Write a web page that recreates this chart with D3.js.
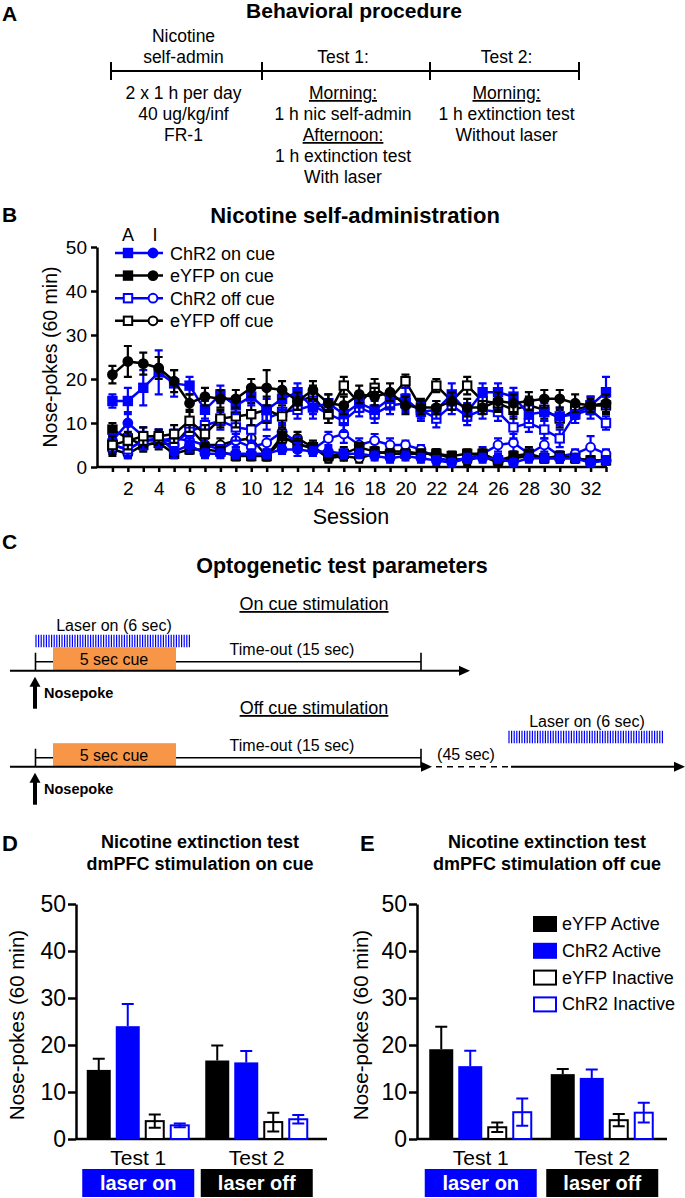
<!DOCTYPE html>
<html>
<head>
<meta charset="utf-8">
<script src="https://cdn.jsdelivr.net/npm/d3@7"></script>
<style>
body{margin:0;background:#fff;}
svg{display:block;font-family:"Liberation Sans",Arial,sans-serif;}
</style>
</head>
<body>
<svg id="fig" width="685" height="1198"></svg>
<script>
const BLUE = "#0000ff";
const ORANGE = "#f79646";
const FONT = "'Liberation Sans', Arial, sans-serif";

// ---- panel A text ----
const phaseHeads = [["Nicotine", "self-admin"], ["Test 1:"], ["Test 2:"]];
const phaseNotes = [
  [["2 x 1 h per day", 0], ["40 ug/kg/inf", 0], ["FR-1", 0]],
  [["Morning:", 1], ["1 h nic self-admin", 0], ["Afternoon:", 1], ["1 h extinction test", 0], ["With laser", 0]],
  [["Morning:", 1], ["1 h extinction test", 0], ["Without laser", 0]]
];

// ---- panel B data (sessions 1..33) ----
const sessions = d3.range(1, 34);
const chr2OnActive = [15,15,18,21.5,19,18.5,13,16.5,14,16,13,15.5,17,13.5,14.5,12,14.5,13,15.5,15.5,12.5,13,16.5,12.5,17,17,16,12,12.5,11.5,12,14,17];
const chr2OnActiveErr = [1.5,3,4,5,3,2,2,2,2,2,2.5,2.5,2,2.5,2,2,2,2,2,2.5,2,2,2.5,2,2,2,2,2,2,2,2,2,3.5];
const chr2OnInactive = [6,10,7,7,3.5,5,3,3,3,3,3,4,4,3.5,3.5,3,3,2.5,2,2.5,2,1.5,1,2,2,2,1,2,2,2,2,1,1.5];
const chr2OnInactiveErr = [1.5,2.5,2,1.5,1.5,1.5,1,1,1,1,1,1,1.5,1,1,1,1,1,1,1,1,1,0.8,1,1,1,0.8,1,1,1,1,0.8,1];
const eyfpOnActive = [21,24,23.5,22.5,19.5,14.5,16,15.5,15.5,18,18,17.5,15,17.5,14.5,14,16.5,16,17,14,13.5,13.5,15,13.5,13.5,15,14.5,15,15.5,15.5,14.5,14,14.5];
const eyfpOnActiveErr = [2,3.5,2.5,2.5,2.5,2,2,2,2,2,4,2,2,2,2,2,2,2,2,2,1.5,1.5,2,2,1.5,2,2,2,2,2,2,1.5,2];
const eyfpOnInactive = [8.5,6.5,5,5.5,3,4,4,3.5,2.5,2.5,2.5,7,5,4.5,2.5,3,4.5,3.5,3,3,3,3,2.5,3,3,1.5,2.5,3,2,2.5,2,1.5,1.5];
const eyfpOnInactiveErr = [1.5,1,1,1,1,1,1,1,1,1,1,1.5,1.5,1,1,1.5,1,1,1,1,1,1,1,1,1,1,1,1.5,1,1,1,1,1];
const chr2OffActive = [5,4,6,6.5,5.5,8,9.5,10.5,9,8.5,11,12.5,13,14,12,10.5,13.5,12,14,14.5,13,11,14,11.5,13,12.5,9,10,8.5,6.5,12,13,10];
const chr2OffActiveErr = [2,2,2,2,2,2,3,2,3,3,2.5,2.5,2,2,2,2.5,2,2,2,2,2,2,2,2,2,2,2.5,2,2,2,2,2,1.5];
const chr2OffInactive = [5,4,6,6,6.5,6,5,4,6,4.5,5.5,8,5.5,4,6.5,7.5,5,6,5,5,4,2,1.5,2,3,5,5.5,3,5,2.5,3,4.5,3];
const chr2OffInactiveErr = [1.5,1.5,1.5,1.5,2,1.5,1.5,1,1.5,1.5,1.5,1.5,1.5,1.5,1.5,2,1.5,1.5,1.5,1,1,1,1,1,1.5,1.5,2,1,1.5,1,1,2.5,1];
const eyfpOffActive = [5,6,7,7,7.5,10.5,7.5,11,11.5,12,13,11.5,15,16,12,18.5,14.5,18,15.5,19.5,13.5,18.5,15,18.5,15,14.5,13,14,13,11,13,14,14];
const eyfpOffActiveErr = [2,2,2,1.5,2,2.5,2,2,2.5,2.5,3,2.5,2,2.5,2,2,2,2,2,1.5,2,1.5,2,2,2,2,2,2,2,2,2,2,2];
const eyfpOffInactive = [4,3,5,5.5,5,9,5,5,6,6.5,2.5,6,6.5,4.5,2,2.5,2,3,3.5,3.5,3,3,2,1.5,2.5,1,2,2.5,2,2,2,1.5,1.5];
const eyfpOffInactiveErr = [1.5,1,1.5,1.5,1.5,2,1.5,1.5,1.5,2,1,1.5,1.5,1.5,1,1,1,1,1,1,1,1,1,1,1,1,1,1,1,1,1,1,1];

// ---- panels D / E data ----
const testNames = ["Test 1", "Test 2"];
const barSeries = ["eYFP Active", "ChR2 Active", "eYFP Inactive", "ChR2 Inactive"];
const onCueTest1 = [14.7, 24.0, 3.8, 2.9];
const onCueTest1Err = [2.4, 4.7, 1.4, 0.4];
const onCueTest2 = [16.7, 16.3, 3.6, 4.2];
const onCueTest2Err = [3.2, 2.4, 2.0, 0.9];
const offCueTest1 = [19.1, 15.5, 2.5, 5.7];
const offCueTest1Err = [4.8, 3.3, 1.0, 2.9];
const offCueTest2 = [13.8, 13.0, 4.0, 5.6];
const offCueTest2Err = [1.1, 1.8, 1.3, 2.1];
const laserLabels = ["laser on", "laser off"];
const yTicks = [0, 10, 20, 30, 40, 50];

const svg = d3.select("#fig");

function txt(g, x, y, s, o = {}) {
  const t = g.append("text").attr("x", x).attr("y", y).text(s)
    .attr("font-size", o.size || 16)
    .attr("text-anchor", o.anchor || "middle")
    .attr("fill", o.fill || "#000");
  if (o.bold) t.attr("font-weight", "bold");
  if (o.underline) t.style("text-decoration", "underline");
  if (o.rotate) t.attr("transform", `rotate(-90,${x},${y})`);
  return t;
}

function styleAxis(g, size) {
  g.attr("font-family", FONT).attr("font-size", size);
  g.selectAll("path,line").attr("stroke", "#000").attr("stroke-width", 2.5);
  g.selectAll("text").attr("fill", "#000");
}

// ================= Panel A =================
const gA = svg.append("g");
txt(gA, 2, 21, "A", {size: 21, bold: true, anchor: "start"});
txt(gA, 354, 18, "Behavioral procedure", {size: 21, bold: true});
const xA = d3.scaleLinear().domain([0, 1, 2, 3]).range([111, 262, 430, 579]);
gA.append("line").attr("x1", xA(0)).attr("x2", xA(3)).attr("y1", 71).attr("y2", 71)
  .attr("stroke", "#000").attr("stroke-width", 2);
gA.selectAll(".tk").data([0, 1, 2, 3]).enter().append("line")
  .attr("x1", d => xA(d)).attr("x2", d => xA(d)).attr("y1", 62).attr("y2", 80)
  .attr("stroke", "#000").attr("stroke-width", 2);
phaseHeads.forEach((h, i) => {
  const cx = xA(i + 0.5) - (i === 0 ? 3 : i === 1 ? 3 : -2);
  h.forEach((s, j) => txt(gA, cx, 63 - (h.length - 1 - j) * 21, s, {size: 17.5}));
  phaseNotes[i].forEach((l, j) => txt(gA, cx, 99 + j * 21, l[0], {size: 17.5, underline: l[1]}));
});

// ================= Panel B =================
const gB = svg.append("g");
txt(gB, 2, 222, "B", {size: 21, bold: true, anchor: "start"});
txt(gB, 355, 223, "Nicotine self-administration", {size: 22, bold: true});

const xB = d3.scaleLinear().domain([0, 33]).range([97, 606]);
const yB = d3.scaleLinear().domain([0, 50]).range([467, 247]);

const yAxB = gB.append("g").attr("transform", `translate(${xB(0)},0)`)
  .call(d3.axisLeft(yB).tickValues(yTicks).tickSize(6).tickSizeOuter(0).tickPadding(4));
styleAxis(yAxB, 19);
const xAxB = gB.append("g").attr("transform", `translate(0,${yB(0)})`)
  .call(d3.axisBottom(xB).tickValues(sessions).tickFormat(d => d % 2 === 0 ? d : "")
    .tickSize(5).tickSizeOuter(0).tickPadding(10));
styleAxis(xAxB, 19);
xAxB.select(".domain").attr("d", `M${xB(0)},0H${xB(33) + 1}`);

txt(gB, 57, 357, "Nose-pokes (60 min)", {size: 19.5, rotate: true});
txt(gB, 351, 524, "Session", {size: 21.5});

const lineSeries = [
  {v: eyfpOffInactive, e: eyfpOffInactiveErr, c: "#000", fill: false, shape: "circle"},
  {v: chr2OffInactive, e: chr2OffInactiveErr, c: BLUE, fill: false, shape: "circle"},
  {v: eyfpOnInactive, e: eyfpOnInactiveErr, c: "#000", fill: true, shape: "square"},
  {v: chr2OnInactive, e: chr2OnInactiveErr, c: BLUE, fill: true, shape: "circle"},
  {v: chr2OffActive, e: chr2OffActiveErr, c: BLUE, fill: false, shape: "square"},
  {v: eyfpOffActive, e: eyfpOffActiveErr, c: "#000", fill: false, shape: "square"},
  {v: chr2OnActive, e: chr2OnActiveErr, c: BLUE, fill: true, shape: "square"},
  {v: eyfpOnActive, e: eyfpOnActiveErr, c: "#000", fill: true, shape: "circle"}
];

function marker(g, shape, x, y, c, fill) {
  let m;
  if (shape === "square") {
    m = g.append("rect").attr("x", x - 4.2).attr("y", y - 4.2).attr("width", 8.4).attr("height", 8.4);
  } else {
    m = g.append("circle").attr("cx", x).attr("cy", y).attr("r", 4.4);
  }
  m.attr("fill", fill ? c : "#fff").attr("stroke", c).attr("stroke-width", 2);
}

const lineGen = d3.line().x((d, i) => xB(i + 1)).y(d => yB(d));
lineSeries.forEach(s => {
  const g = gB.append("g");
  g.append("path").attr("d", lineGen(s.v)).attr("fill", "none")
    .attr("stroke", s.c).attr("stroke-width", 2.5);
  s.v.forEach((v, i) => {
    const x = xB(i + 1), y1 = yB(v + s.e[i]), y0 = yB(Math.max(0, v - s.e[i]));
    g.append("path").attr("d", `M${x},${y0}V${y1}M${x - 4},${y1}H${x + 4}M${x - 4},${y0}H${x + 4}`)
      .attr("stroke", s.c).attr("stroke-width", 2.2).attr("fill", "none");
  });
  s.v.forEach((v, i) => marker(g, s.shape, xB(i + 1), yB(v), s.c, s.fill));
});

// legend B
const legB = [
  {label: "ChR2 on cue", c: BLUE, fill: true},
  {label: "eYFP on cue", c: "#000", fill: true},
  {label: "ChR2 off cue", c: BLUE, fill: false},
  {label: "eYFP off cue", c: "#000", fill: false}
];
txt(gB, 128, 241, "A", {size: 18});
txt(gB, 155, 241, "I", {size: 18});
legB.forEach((d, i) => {
  const y = 253 + i * 22.6;
  gB.append("line").attr("x1", 115).attr("x2", 163).attr("y1", y).attr("y2", y)
    .attr("stroke", d.c).attr("stroke-width", 2.5);
  marker(gB, "square", 128, y, d.c, d.fill);
  marker(gB, "circle", 153, y, d.c, d.fill);
  txt(gB, 170, y + 6.5, d.label, {size: 18, anchor: "start"});
});

// ================= Panel C =================
const gC = svg.append("g");
txt(gC, 2, 549, "C", {size: 21, bold: true, anchor: "start"});
txt(gC, 342, 573, "Optogenetic test parameters", {size: 21.5, bold: true});

const schemes = [
  {title: "On cue stimulation", titleY: 610, base: 670.7, laser: [36, 192], end: 470, wait: false},
  {title: "Off cue stimulation", titleY: 714, base: 766.7, laser: [509, 665], end: 432, wait: true}
];

function arrowHead(g, x, y) {
  g.append("path").attr("d", `M${x},${y}L${x - 11},${y - 5}L${x - 11},${y + 5}Z`).attr("fill", "#000");
}

schemes.forEach(s => {
  const b = s.base;
  txt(gC, 314, s.titleY, s.title, {size: 18, underline: true});
  const lc = (s.laser[0] + s.laser[1]) / 2;
  txt(gC, lc - (s.wait ? 0 : 0), b - 40, "Laser on (6 sec)", {size: 16});
  gC.selectAll(null).data(d3.range(s.laser[0], s.laser[1], 2.6)).enter().append("line")
    .attr("x1", d => d).attr("x2", d => d).attr("y1", b - 36).attr("y2", b - 23.5)
    .attr("stroke", BLUE).attr("stroke-width", 1.2);
  gC.append("rect").attr("x", 53).attr("y", b - 23.5).attr("width", 123).attr("height", 23)
    .attr("fill", ORANGE);
  txt(gC, 114, b - 6, "5 sec cue", {size: 16});
  gC.append("path").attr("d", `M35.5,${b - 18}V${b}M35.5,${b - 9}H53M176,${b - 9}H421M421,${b - 18}V${b}`)
    .attr("stroke", "#000").attr("stroke-width", 1.6).attr("fill", "none");
  txt(gC, 292, b - 15.5, "Time-out (15 sec)", {size: 16});
  gC.append("line").attr("x1", 10).attr("x2", s.end - 8).attr("y1", b).attr("y2", b)
    .attr("stroke", "#000").attr("stroke-width", 2);
  arrowHead(gC, s.end, b);
  if (s.wait) {
    gC.append("line").attr("x1", 436).attr("x2", 509).attr("y1", b).attr("y2", b)
      .attr("stroke", "#000").attr("stroke-width", 1.6).attr("stroke-dasharray", "6,5");
    txt(gC, 466, b - 6.5, "(45 sec)", {size: 16});
    gC.append("line").attr("x1", 511).attr("x2", 677).attr("y1", b).attr("y2", b)
      .attr("stroke", "#000").attr("stroke-width", 2);
    arrowHead(gC, 685, b);
  }
  // nosepoke arrow
  gC.append("path").attr("d", `M35,${b + 6}L29.5,${b + 16}L40.5,${b + 16}Z`).attr("fill", "#000");
  gC.append("rect").attr("x", 33).attr("y", b + 15).attr("width", 4).attr("height", 23).attr("fill", "#000");
  txt(gC, 44, b + 27.5, "Nosepoke", {size: 14.5, bold: true, anchor: "start"});
});

// ================= Panels D / E =================
const barFill = ["#000", BLUE, "#fff", "#fff"];
const barStroke = ["#000", BLUE, "#000", BLUE];
const barWidth = [24, 24, 20, 20];
const barGap = 5;

function barPanel(o) {
  const g = svg.append("g");
  txt(g, o.letterX, 851, o.letter, {size: 22, bold: true, anchor: "start"});
  txt(g, o.titleX, 848, "Nicotine extinction test", {size: 18, bold: true});
  txt(g, o.titleX, 870, o.subtitle, {size: 18, bold: true});

  const y = d3.scaleLinear().domain([0, 50]).range([1139, 904]);
  const x = d3.scaleBand().domain(testNames).range(o.band);

  const ay = g.append("g").attr("transform", `translate(${o.axisX},0)`)
    .call(d3.axisLeft(y).tickValues(yTicks).tickSize(8).tickSizeOuter(0).tickPadding(2));
  styleAxis(ay, 23);
  g.append("line").attr("x1", o.axisX).attr("x2", o.axisEnd).attr("y1", y(0)).attr("y2", y(0))
    .attr("stroke", "#000").attr("stroke-width", 2.5);
  txt(g, o.ylabX, 1025, "Nose-pokes (60 min)", {size: 20.5, rotate: true});

  const total = d3.sum(barWidth) + barGap * 3;
  testNames.forEach((t, ti) => {
    const cx = x(t) + x.bandwidth() / 2;
    const means = o.means[ti], errs = o.errs[ti];
    let left = cx - total / 2;
    means.forEach((m, k) => {
      const w = barWidth[k], bx = left + w / 2;
      const open = k >= 2;
      const top = y(m + errs[k]), bot = y(m - errs[k]);
      const capW = 6;
      if (!open) {
        g.append("path").attr("d", `M${bx},${y(m)}V${top}M${bx - capW},${top}H${bx + capW}`)
          .attr("stroke", barStroke[k]).attr("stroke-width", 2).attr("fill", "none");
        g.append("rect").attr("x", left).attr("y", y(m)).attr("width", w).attr("height", y(0) - y(m))
          .attr("fill", barFill[k]);
      } else {
        g.append("rect").attr("x", left + 1).attr("y", y(m)).attr("width", w - 2).attr("height", y(0) - y(m))
          .attr("fill", "#fff").attr("stroke", barStroke[k]).attr("stroke-width", 2);
        g.append("path").attr("d", `M${bx},${bot}V${top}M${bx - capW},${top}H${bx + capW}M${bx - capW},${bot}H${bx + capW}`)
          .attr("stroke", barStroke[k]).attr("stroke-width", 2).attr("fill", "none");
      }
      left += w + barGap;
    });
    txt(g, cx, 1165, t, {size: 21});
    const bw = 112;
    g.append("rect").attr("x", cx - bw / 2).attr("y", 1169).attr("width", bw).attr("height", 28)
      .attr("fill", ti === 0 ? BLUE : "#000");
    txt(g, cx, 1190, laserLabels[ti], {size: 20, bold: true, fill: "#fff"});
  });
  return g;
}

barPanel({
  letter: "D", letterX: 2, titleX: 200, subtitle: "dmPFC stimulation on cue",
  axisX: 76, axisEnd: 327, band: [79, 316], ylabX: 24,
  means: [onCueTest1, onCueTest2], errs: [onCueTest1Err, onCueTest2Err]
});
const gE = barPanel({
  letter: "E", letterX: 360, titleX: 547, subtitle: "dmPFC stimulation off cue",
  axisX: 417, axisEnd: 667, band: [420, 663], ylabX: 368,
  means: [offCueTest1, offCueTest2], errs: [offCueTest1Err, offCueTest2Err]
});

// legend E
barSeries.forEach((s, k) => {
  const yy = 924 + k * 26.8;
  const open = k >= 2;
  gE.append("rect").attr("x", open ? 534 : 533).attr("y", yy - (open ? 7 : 8))
    .attr("width", open ? 22 : 24).attr("height", open ? 14 : 16)
    .attr("fill", barFill[k]).attr("stroke", open ? barStroke[k] : "none").attr("stroke-width", 2);
  txt(gE, 562, yy + 6, s, {size: 18, anchor: "start"});
});
</script>
</body>
</html>
